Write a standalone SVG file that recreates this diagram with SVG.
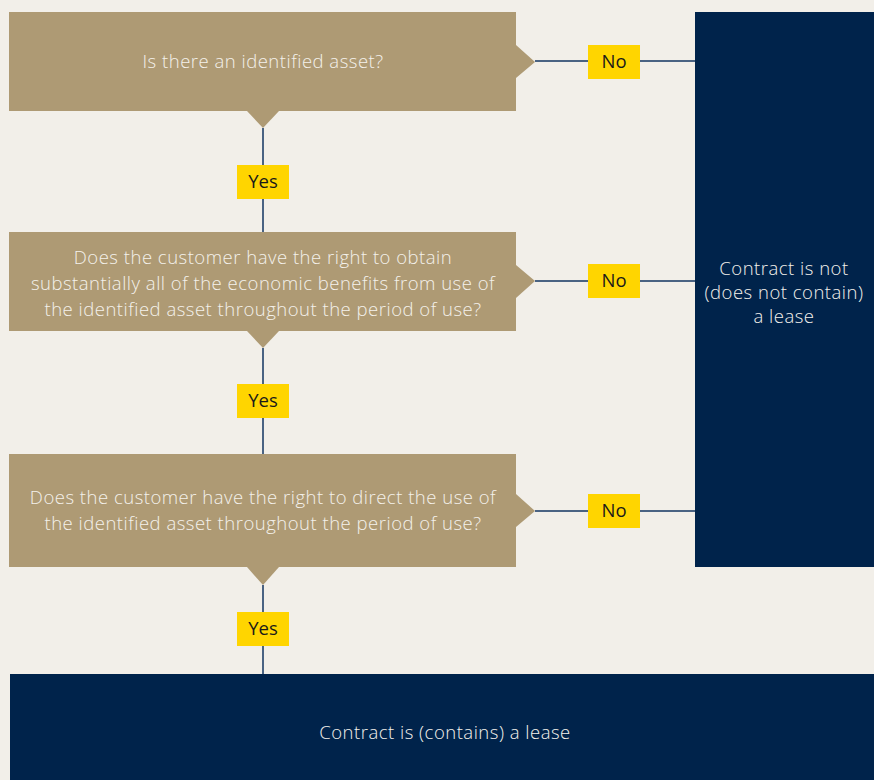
<svg xmlns="http://www.w3.org/2000/svg" width="874" height="780" viewBox="0 0 874 780">
<style>
.q{fill:#ae9a74}
.t{fill:#f4f1eb;font-family:"Open Sans","Noto Sans",sans-serif;font-size:18.5px;font-weight:300;letter-spacing:0.5px;text-anchor:middle}
.lab{fill:#ffd500}
.lt{fill:#1a1a1a;font-family:"Open Sans","Noto Sans",sans-serif;font-size:18.5px;font-weight:400;text-anchor:middle}
.n{fill:#00234b}
.c{stroke:#4a6383;stroke-width:2;fill:none}
</style>
<rect width="874" height="780" fill="#f2efe9"/>
<g id="connectors">
<path class="c" d="M535 61H695M535 281H695M535 511H695M263 128V232M263 348V454M263 585V674"/>
</g>
<g id="q1">
<rect class="q" x="9" y="12" width="507" height="99"/>
<polygon class="q" points="516,45 535,62 516,78"/>
<polygon class="q" points="247,111 279,111 263,128"/>
<text class="t" x="263" y="68">Is there an identified asset?</text>
</g>
<g id="q2">
<rect class="q" x="9" y="232" width="507" height="99"/>
<polygon class="q" points="516,265 535,281 516,298"/>
<polygon class="q" points="247,331 279,331 263,348"/>
<text class="t" x="263" y="264">Does the customer have the right to obtain</text>
<text class="t" x="263" y="290">substantially all of the economic benefits from use of</text>
<text class="t" x="263" y="316">the identified asset throughout the period of use?</text>
</g>
<g id="q3">
<rect class="q" x="9" y="454" width="507" height="113"/>
<polygon class="q" points="516,494 535,511 516,527"/>
<polygon class="q" points="247,567 279,567 263,585"/>
<text class="t" x="263" y="504">Does the customer have the right to direct the use of</text>
<text class="t" x="263" y="530">the identified asset throughout the period of use?</text>
</g>
<g id="notlease">
<rect class="n" x="695" y="12" width="179" height="555"/>
<text class="t" x="784" y="275">Contract is not</text>
<text class="t" x="784" y="299">(does not contain)</text>
<text class="t" x="784" y="323">a lease</text>
</g>
<g id="lease">
<rect class="n" x="10" y="674" width="864" height="106"/>
<text class="t" x="445" y="739">Contract is (contains) a lease</text>
</g>
<g id="labels">
<rect class="lab" x="588" y="45" width="52" height="34"/><text class="lt" x="614" y="68">No</text>
<rect class="lab" x="588" y="264" width="52" height="34"/><text class="lt" x="614" y="287">No</text>
<rect class="lab" x="588" y="494" width="52" height="34"/><text class="lt" x="614" y="517">No</text>
<rect class="lab" x="237" y="165" width="52" height="34"/><text class="lt" x="263" y="188">Yes</text>
<rect class="lab" x="237" y="384" width="52" height="34"/><text class="lt" x="263" y="407">Yes</text>
<rect class="lab" x="237" y="612" width="52" height="34"/><text class="lt" x="263" y="635">Yes</text>
</g>
</svg>
